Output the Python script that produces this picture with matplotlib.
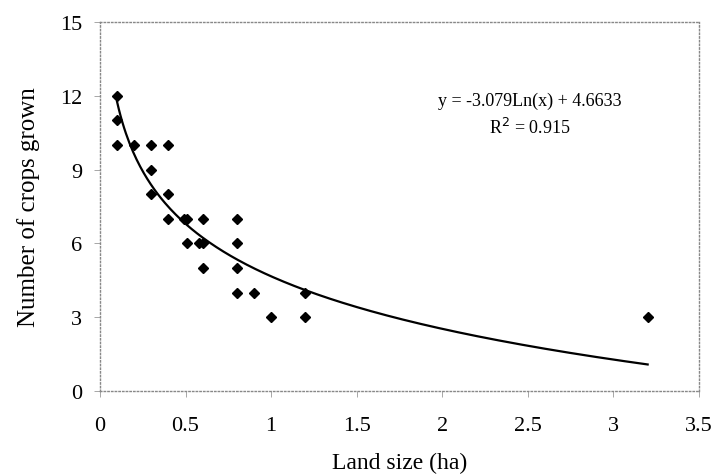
import numpy as np
import matplotlib.pyplot as plt

# Datos: tamaño de la finca (ha) y número de cultivos
land_size = [0.1, 0.1, 0.1, 0.2, 0.3, 0.3, 0.3, 0.4, 0.4, 0.4, 0.49, 0.51, 0.51,
             0.58, 0.6, 0.6, 0.6, 0.8, 0.8, 0.8, 0.8, 0.9, 1.0, 1.2, 1.2, 3.2]
crops = [12, 11, 10, 10, 10, 9, 8, 10, 8, 7, 7, 7, 6,
         6, 6, 7, 5, 7, 6, 5, 4, 4, 3, 4, 3, 3]

# Línea de tendencia logarítmica (coeficientes mostrados en el gráfico)
slope = -3.079
intercept = 4.6633
r2 = 0.915

x_ticks = [0, 0.5, 1, 1.5, 2, 2.5, 3, 3.5]
x_labels = ["0", "0.5", "1", "1.5", "2", "2.5", "3", "3.5"]
y_ticks = [0, 3, 6, 9, 12, 15]

plt.rcParams["font.family"] = ["Liberation Serif", "DejaVu Serif"]

fig = plt.figure(figsize=(7.14, 4.77), dpi=100)
ax = fig.add_axes([0.140, 0.178, 0.839, 0.774])

# Puntos
ax.plot(land_size, crops, linestyle="none", marker="D", markersize=5,
        color="black")

# Curva de ajuste
x_fit = np.linspace(min(land_size), max(land_size), 300)
y_fit = slope * np.log(x_fit) + intercept
ax.plot(x_fit, y_fit, color="black", linewidth=1.6)

# Ecuación y R²
ax.text(2.51, 11.25, "y = -3.079Ln(x) + 4.6633\nR$^2$ = 0.915", ha="center",
        va="center", fontsize=13, linespacing=1.45)

ax.set_xlim(0, 3.5)
ax.set_ylim(0, 15)
ax.set_xticks(x_ticks)
ax.set_xticklabels(x_labels)
ax.set_yticks(y_ticks)
ax.tick_params(axis="both", direction="out", length=4, width=0.6,
               color="#999999", labelsize=16)
ax.tick_params(axis="x", pad=14)
ax.tick_params(axis="y", pad=9)

for spine in ax.spines.values():
    spine.set_color("#888888")
    spine.set_linestyle(":")
    spine.set_linewidth(1.0)

ax.set_xlabel("Land size (ha)", fontsize=17, labelpad=12)
ax.set_ylabel("Number of crops grown", fontsize=18, labelpad=14)

plt.rcParams["mathtext.fontset"] = "stix"
fig.savefig("out.png", dpi=100)
